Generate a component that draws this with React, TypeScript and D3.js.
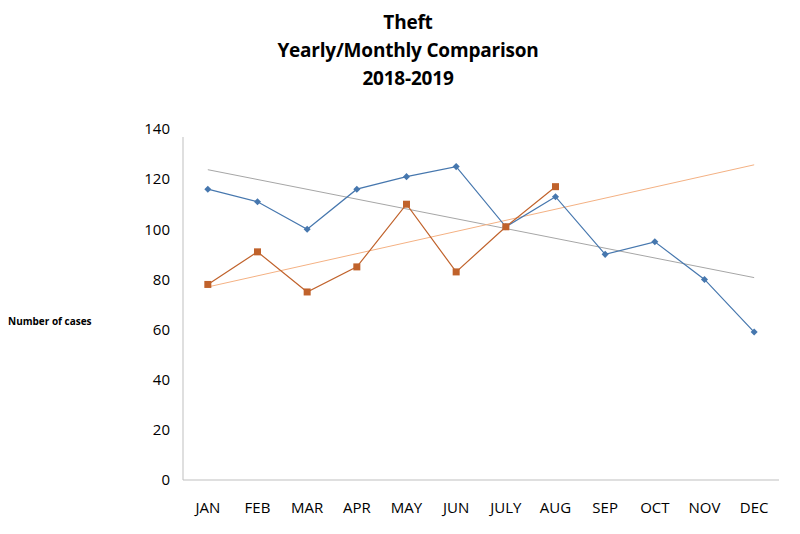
import React from "react";
import * as d3 from "d3";

const months = ["JAN", "FEB", "MAR", "APR", "MAY", "JUN", "JULY", "AUG", "SEP", "OCT", "NOV", "DEC"];
const series2018 = [116, 111, 100, 116, 121, 125, 101, 113, 90, 95, 80, 59];
const series2019 = [78, 91, 75, 85, 110, 83, 101, 117];
const yTicks = [0, 20, 40, 60, 80, 100, 120, 140];
const titleLines = ["Theft", "Yearly/Monthly Comparison", "2018-2019"];

function linReg(vals: number[]) {
  const xs = vals.map((_, i) => i + 1);
  const mx = d3.mean(xs)!;
  const my = d3.mean(vals)!;
  let sxy = 0, sxx = 0;
  xs.forEach((x, i) => { sxy += (x - mx) * (vals[i] - my); sxx += (x - mx) ** 2; });
  const b = sxy / sxx;
  const a = my - b * mx;
  return (x: number) => a + b * x;
}

export default function App() {
  const W = 800, H = 534;
  const x = d3.scaleBand<string>().domain(months).range([183, 779]);
  const y = d3.scaleLinear().domain([0, 140]).range([480, 129]);
  const cx = (m: string) => (x(m) as number) + x.bandwidth() / 2;
  const line = d3.line<[number, number]>().x(d => d[0]).y(d => d[1]);

  const p18: [number, number][] = series2018.map((v, i) => [cx(months[i]), y(v)]);
  const p19: [number, number][] = series2019.map((v, i) => [cx(months[i]), y(v)]);
  const t18 = linReg(series2018);
  const t19 = linReg(series2019);
  const trend18: [number, number][] = [[cx(months[0]), y(t18(1))], [cx(months[11]), y(t18(12))]];
  const trend19: [number, number][] = [[cx(months[0]), y(t19(1))], [cx(months[11]), y(t19(12))]];

  const font = "Open Sans, Liberation Sans, sans-serif";
  const blue = "#4677AE";
  const orange = "#C0622B";

  return (
    <svg width={W} height={H} style={{ position: "absolute", left: 0, top: 0, background: "#fff" }} fontFamily={font}>
      {titleLines.map((t, i) => (
        <text key={t} x={408} y={29 + i * 28} textAnchor="middle" fontSize={19} fontWeight="bold" fill="#000" letterSpacing={-0.2}>{t}</text>
      ))}
      <text x={8} y={325} fontSize={10} fontWeight="bold" fill="#000">Number of cases</text>
      <line x1={183} x2={183} y1={137} y2={480} stroke="#BFBFBF" strokeWidth={1} />
      <line x1={183} x2={779} y1={480} y2={480} stroke="#BFBFBF" strokeWidth={1} />
      {yTicks.map(t => (
        <text key={t} x={170} y={y(t)} dy="0.35em" textAnchor="end" fontSize={15} fill="#000">{t}</text>
      ))}
      {months.map(m => (
        <text key={m} x={cx(m)} y={513} textAnchor="middle" fontSize={15} fill="#000">{m}</text>
      ))}
      <path d={line(trend18)!} stroke="#A6A6A6" strokeWidth={1} fill="none" />
      <path d={line(trend19)!} stroke="#F4B183" strokeWidth={1} fill="none" />
      <path d={line(p18)!} stroke={blue} strokeWidth={1.2} fill="none" />
      <path d={line(p19)!} stroke={orange} strokeWidth={1.2} fill="none" />
      {p18.map(([px, py], i) => (
        <rect key={"b" + i} x={px - 2.5} y={py - 2.5} width={5} height={5} fill={blue} transform={`rotate(45 ${px} ${py})`} />
      ))}
      {p19.map(([px, py], i) => (
        <rect key={"o" + i} x={px - 3.5} y={py - 3.5} width={7} height={7} fill={orange} />
      ))}
    </svg>
  );
}
